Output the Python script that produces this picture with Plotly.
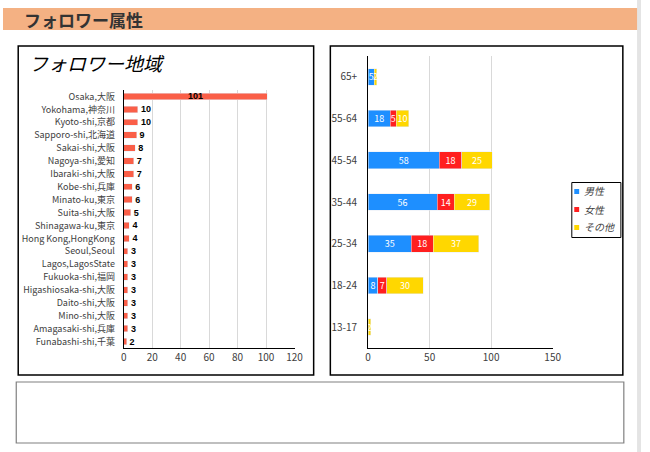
import plotly.graph_objects as go

# ---- data ----
regions = ["Osaka,大阪", "Yokohama,神奈川", "Kyoto-shi,京都", "Sapporo-shi,北海道", "Sakai-shi,大阪",
           "Nagoya-shi,愛知", "Ibaraki-shi,大阪", "Kobe-shi,兵庫", "Minato-ku,東京", "Suita-shi,大阪",
           "Shinagawa-ku,東京", "Hong Kong,HongKong", "Seoul,Seoul", "Lagos,LagosState",
           "Fukuoka-shi,福岡", "Higashiosaka-shi,大阪", "Daito-shi,大阪", "Mino-shi,大阪",
           "Amagasaki-shi,兵庫", "Funabashi-shi,千葉"]
region_counts = [101, 10, 10, 9, 8, 7, 7, 6, 6, 5, 4, 4, 3, 3, 3, 3, 3, 3, 3, 2]

age_groups = ["13-17", "18-24", "25-34", "35-44", "45-54", "55-64", "65+"]
male = [0, 8, 35, 56, 58, 18, 5]
female = [0, 7, 18, 14, 18, 5, 0]
other = [2, 30, 37, 29, 25, 10, 2]
series_names = ["男性", "女性", "その他"]
series_colors = ["#1E8FFF", "#FF1F1F", "#FFD700"]

left_ticks = [0, 20, 40, 60, 80, 100, 120]
right_ticks = [0, 50, 100, 150]

W, H = 650, 452
FONT = "Noto Sans CJK JP, Noto Sans, sans-serif"

def px(x):
    return x / W

def py(y):
    return 1 - y / H

fig = go.Figure()

n = len(regions)
fig.add_trace(go.Bar(
    y=regions, x=region_counts, orientation="h",
    marker=dict(color="#FA5F48"),
    text=[str(v) for v in region_counts],
    textposition=["inside"] + ["outside"] * (n - 1),
    insidetextanchor="middle", textangle=0,
    textfont=dict(color="black", size=9, family="Liberation Sans", weight="bold"),
    cliponaxis=False,
    width=0.5,
    showlegend=False,
    xaxis="x", yaxis="y",
))

for name, vals, col in zip(series_names, [male, female, other], series_colors):
    fig.add_trace(go.Bar(
        y=age_groups, x=vals, orientation="h", name=name,
        marker=dict(color=col),
        text=[str(v) for v in vals],
        textposition="inside", insidetextanchor="middle", textangle=0,
        textfont=dict(color="white", size=9, family=FONT),
        width=0.4,
        showlegend=False,
        xaxis="x2", yaxis="y2",
    ))

shapes = []
shapes.append(dict(type="rect", xref="paper", yref="paper", x0=px(646), x1=1, y0=0, y1=1,
                   fillcolor="#E4E4E4", line=dict(width=0), layer="below"))
shapes.append(dict(type="rect", xref="paper", yref="paper", x0=0, x1=px(646), y0=py(30), y1=py(8),
                   fillcolor="#F4B183", line=dict(width=0), layer="below"))
shapes.append(dict(type="rect", xref="paper", yref="paper", x0=px(15.5), x1=px(316.5), y0=py(375), y1=py(46),
                   line=dict(color="black", width=1.5), fillcolor="rgba(0,0,0,0)"))
shapes.append(dict(type="rect", xref="paper", yref="paper", x0=px(333.5), x1=px(631.5), y0=py(375), y1=py(46),
                   line=dict(color="black", width=1.5), fillcolor="rgba(0,0,0,0)"))
shapes.append(dict(type="rect", xref="paper", yref="paper", x0=px(13.5), x1=px(632.5), y0=py(443), y1=py(382),
                   line=dict(color="#808080", width=1.2), fillcolor="rgba(0,0,0,0)"))

annotations = [
    dict(text="フォロワー属性", xref="paper", yref="paper", x=px(19), y=py(19), xanchor="left", yanchor="middle",
         showarrow=False, font=dict(size=17, color="#333333", family=FONT, weight="bold")),
    dict(text="フォロワー地域", xref="paper", yref="paper", x=px(24), y=py(63), xanchor="left", yanchor="middle",
         showarrow=False, font=dict(size=19, color="black", family=FONT, style="italic")),
]

shapes.append(dict(type="rect", xref="paper", yref="paper", x0=px(579.5), x1=px(629.5), y0=py(237.5), y1=py(182.5),
                   line=dict(color="black", width=1), fillcolor="white"))
leg_y = [191, 209, 227]
for name, col, yy in zip(series_names, series_colors, leg_y):
    shapes.append(dict(type="rect", xref="paper", yref="paper", x0=px(582), x1=px(587), y0=py(yy + 3), y1=py(yy - 2),
                       line=dict(width=0), fillcolor=col))
    annotations.append(dict(text=name, xref="paper", yref="paper", x=px(590), y=py(yy), xanchor="left",
                            yanchor="middle", showarrow=False,
                            font=dict(size=10, color="#404040", family=FONT, style="italic")))

axis_common = dict(showgrid=True, gridcolor="#D9D9D9", gridwidth=1, zeroline=False,
                   showline=True, linecolor="black", linewidth=1, ticks="",
                   tickfont=dict(size=10, color="#404040", family=FONT))

fig.update_layout(
    width=W, height=H,
    margin=dict(l=0, r=0, t=0, b=0),
    paper_bgcolor="white", plot_bgcolor="white",
    font=dict(family=FONT),
    barmode="stack",
    shapes=shapes, annotations=annotations,
    showlegend=False,
    xaxis=dict(domain=[px(123), px(297)], range=[0, 120], tickvals=left_ticks, anchor="y", **axis_common),
    yaxis=dict(domain=[py(348), py(90)], autorange="reversed", anchor="x", showgrid=False,
               showline=True, linecolor="black", ticks="", ticklabelstandoff=6,
               tickfont=dict(size=9, color="#404040", family=FONT)),
    xaxis2=dict(domain=[px(372), px(560)], range=[0, 150], tickvals=right_ticks, anchor="y2", **axis_common),
    yaxis2=dict(domain=[py(348), py(56)], anchor="x2", showgrid=False,
                showline=True, linecolor="black", ticks="", ticklabelstandoff=8,
                tickfont=dict(size=10, color="#404040", family=FONT)),
    uniformtext=dict(minsize=9, mode="show"),
)

fig.write_html("out.html",
               post_script="document.body.style.margin='0';document.body.style.overflow='hidden';")
